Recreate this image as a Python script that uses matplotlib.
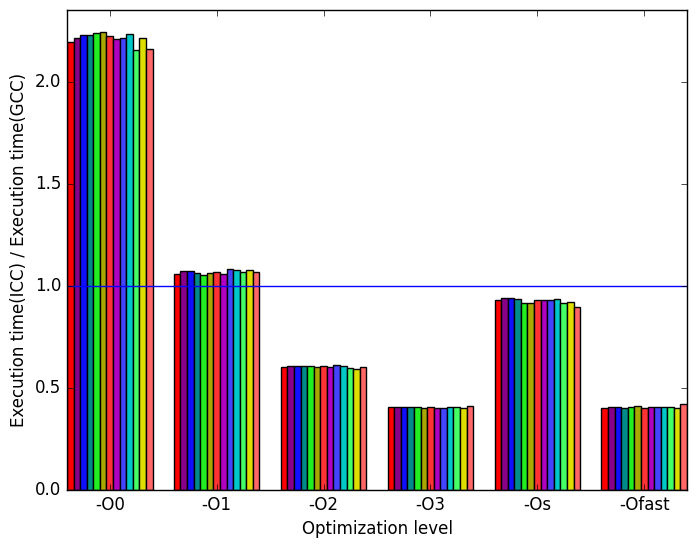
import numpy as np
import matplotlib
matplotlib.use("Agg")
import matplotlib.pyplot as plt

plt.style.use("classic")

levels = ["-O0", "-O1", "-O2", "-O3", "-Os", "-Ofast"]

# one list per benchmark (13 benchmarks), value per optimization level
ratios = [
    [2.198, 1.059, 0.601, 0.405, 0.931, 0.400],
    [2.214, 1.074, 0.609, 0.405, 0.940, 0.405],
    [2.230, 1.074, 0.609, 0.405, 0.940, 0.405],
    [2.230, 1.062, 0.609, 0.405, 0.935, 0.400],
    [2.238, 1.054, 0.606, 0.405, 0.915, 0.405],
    [2.243, 1.062, 0.601, 0.400, 0.915, 0.412],
    [2.225, 1.067, 0.606, 0.405, 0.931, 0.400],
    [2.211, 1.057, 0.601, 0.400, 0.931, 0.405],
    [2.214, 1.082, 0.614, 0.400, 0.931, 0.405],
    [2.234, 1.077, 0.606, 0.405, 0.935, 0.405],
    [2.157, 1.069, 0.600, 0.405, 0.915, 0.405],
    [2.214, 1.077, 0.592, 0.400, 0.920, 0.400],
    [2.160, 1.067, 0.601, 0.412, 0.896, 0.420],
]

colors = ["#ff0000", "#880088", "#1010ff", "#008b8b", "#22ee22", "#a8a800",
          "#ff3333", "#b000c0", "#4444ff", "#00c8c8", "#44ff66", "#dddd00",
          "#ff6666"]

fig = plt.figure(figsize=(6.96, 5.48), dpi=100, facecolor="white")
ax = fig.add_axes([67 / 696, 58 / 548, 620 / 696, 480 / 548])

x = np.arange(len(levels))
n = len(ratios)
width = 0.8 / n
for i, vals in enumerate(ratios):
    ax.bar(x - 0.4 + i * width, vals, width, color=colors[i],
           edgecolor="black", linewidth=1, align="edge")

ax.axhline(1.0, color="blue", linewidth=1)

ax.set_xlim(-0.4, 5.4)
ax.set_ylim(0, 2.353)
ax.set_xticks(x)
ax.set_xticklabels(levels)
ax.set_yticks([0.0, 0.5, 1.0, 1.5, 2.0])
ax.set_xlabel("Optimization level")
ax.set_ylabel("Execution time(ICC) / Execution time(GCC)")

fig.savefig("out.png", dpi=100, facecolor="white")
